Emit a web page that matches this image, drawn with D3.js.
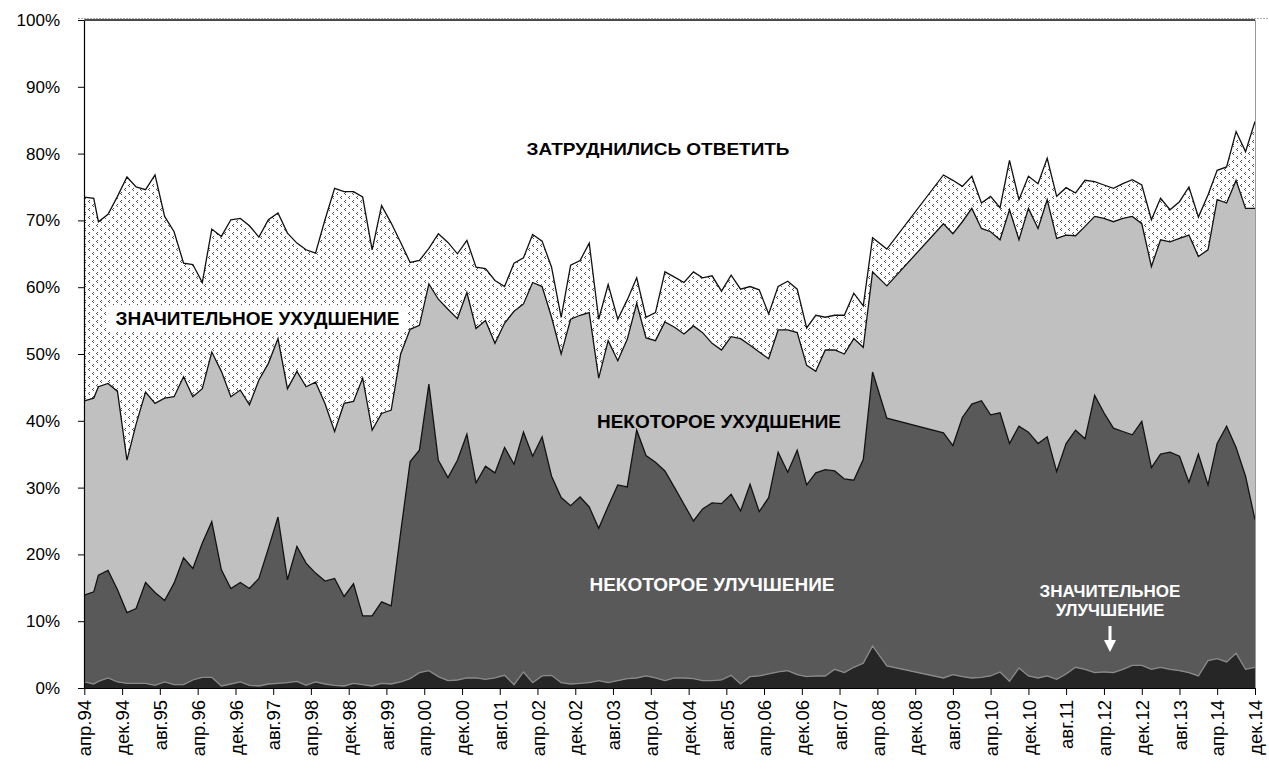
<!DOCTYPE html>
<html><head><meta charset="utf-8">
<script src="https://cdn.jsdelivr.net/npm/d3@7"></script>
<style>
body{margin:0;background:#fff}
svg{display:block}
text{font-family:"Liberation Sans",Arial,sans-serif}
</style>
</head><body>
<svg id="chart" width="1269" height="773"></svg>
<script>
// survey dates (year-month)
const dates = ["1994-04","1994-06","1994-07","1994-09","1994-11","1995-01","1995-03","1995-05","1995-07","1995-09","1995-11",
"1996-01","1996-03","1996-05","1996-07","1996-09","1996-11","1997-01","1997-03","1997-05","1997-07","1997-09","1997-11",
"1998-01","1998-03","1998-05","1998-07","1998-09","1998-11","1999-01","1999-03","1999-05","1999-07","1999-09","1999-11",
"2000-01","2000-03","2000-05","2000-07","2000-09","2000-11","2001-01","2001-03","2001-05","2001-07","2001-09","2001-11",
"2002-01","2002-03","2002-05","2002-07","2002-09","2002-11","2003-01","2003-03","2003-05","2003-07","2003-09","2003-11",
"2004-01","2004-03","2004-05","2004-07","2004-09","2004-11","2005-01","2005-03","2005-05","2005-07","2005-09","2005-11",
"2006-01","2006-03","2006-05","2006-07","2006-09","2006-11","2007-01","2007-03","2007-05","2007-07","2007-09","2007-11",
"2008-01","2008-03","2008-06","2009-06","2009-08","2009-10","2009-12","2010-02","2010-04","2010-06","2010-08","2010-10",
"2010-12","2011-02","2011-04","2011-06","2011-08","2011-10","2011-12","2012-02","2012-04","2012-06","2012-08","2012-10",
"2012-12","2013-02","2013-04","2013-06","2013-08","2013-10","2013-12","2014-02","2014-04","2014-06","2014-08","2014-10","2014-12"];

// Значительное улучшение
const sigImprove = [0.9,0.6,1.0,1.5,0.9,0.7,0.7,0.7,0.4,0.9,0.5,
0.5,1.2,1.6,1.6,0.3,0.6,0.9,0.4,0.3,0.6,0.7,0.8,
1.0,0.4,0.9,0.6,0.4,0.3,0.7,0.5,0.3,0.7,0.6,0.9,
1.4,2.3,2.6,1.7,1.1,1.2,1.5,1.5,1.3,1.5,1.9,0.5,
2.4,0.8,1.8,1.9,0.8,0.6,0.7,0.8,1.1,0.8,1.1,1.4,
1.5,1.8,1.5,1.1,1.5,1.5,1.4,1.1,1.1,1.2,1.9,0.6,
1.7,1.8,2.1,2.4,2.6,2.0,1.7,1.8,1.8,2.8,2.3,3.1,
3.7,6.3,3.3,1.5,2.0,1.7,1.5,1.6,1.8,2.4,1.0,3.0,
1.8,1.5,1.8,1.3,2.1,3.1,2.8,2.3,2.4,2.3,2.8,3.4,
3.4,2.8,3.1,2.8,2.6,2.3,1.8,4.1,4.4,3.9,5.2,2.8,3.1];

// Некоторое улучшение
const someImprove = [13.0,13.8,15.9,16.1,13.8,10.6,11.2,15.1,13.9,12.2,15.2,
19.0,16.7,20.1,23.3,17.4,14.3,14.9,14.5,16.1,20.3,24.9,15.4,
20.2,18.3,16.3,15.4,16.0,13.4,14.9,10.3,10.5,12.2,11.7,22.4,
32.5,33.3,42.9,32.4,30.4,32.9,36.5,29.2,31.9,30.7,34.1,33.0,
35.9,33.9,35.8,29.8,27.7,26.7,27.9,26.3,22.8,26.4,29.3,28.7,
37.1,33.0,32.3,31.4,28.5,26.0,23.6,25.7,26.6,26.4,27.1,25.9,
28.8,24.6,26.4,32.9,29.7,33.6,28.7,30.4,30.9,29.7,29.0,28.0,
30.5,41.0,37.1,36.7,34.3,38.8,41.0,41.4,39.1,38.8,35.6,36.2,
36.5,35.1,35.8,31.1,34.5,35.5,34.5,41.5,38.8,36.6,35.6,34.5,
36.5,30.2,31.9,32.5,32.1,28.5,33.2,26.3,32.2,35.3,30.8,28.9,22.1];

// Некоторое ухудшение
const someWorsen = [29.1,29.0,28.2,28.0,29.7,22.8,27.6,28.5,28.3,30.3,27.9,
27.1,25.7,23.1,25.4,29.7,28.7,28.8,27.5,29.7,27.7,26.7,28.6,
26.2,26.4,28.6,26.6,22.0,28.9,27.3,35.6,27.8,28.2,29.3,26.7,
19.8,18.7,15.0,24.1,25.2,21.2,21.2,23.1,21.8,19.4,18.6,22.9,
19.2,26.0,22.5,23.8,21.5,27.9,27.2,29.1,22.5,24.8,18.6,22.1,
19.0,17.6,18.2,22.3,24.0,25.5,29.2,26.4,23.9,23.0,23.6,25.8,
20.8,23.9,20.8,18.3,21.3,17.6,17.9,15.2,17.9,18.1,18.7,21.2,
16.8,15.0,19.8,31.3,31.7,29.3,29.3,25.8,27.4,25.9,35.0,27.9,
33.5,32.2,35.5,34.9,31.2,29.1,31.8,26.8,29.1,30.9,31.9,32.7,
29.6,30.1,32.1,31.5,32.6,37.0,29.6,35.2,36.5,33.4,40.0,40.1,46.6];

// Значительное ухудшение
const sigWorsen = [30.5,29.9,24.7,25.3,29.2,42.4,35.5,30.3,34.2,27.2,24.7,
17.0,19.8,15.9,18.4,20.2,26.5,25.7,26.8,21.4,21.5,18.8,23.3,
19.2,20.5,19.3,27.5,36.4,31.7,31.4,27.1,27.0,31.1,28.0,16.7,
10.0,9.7,5.3,9.8,10.0,9.7,7.8,9.2,7.8,9.4,5.5,7.2,
6.9,7.2,6.8,7.5,5.5,8.1,8.2,10.4,8.8,8.4,6.2,5.9,
3.8,3.1,4.2,7.5,7.5,7.7,8.1,8.2,10.1,8.8,9.2,7.4,
8.8,9.3,6.7,6.5,7.3,6.5,5.6,8.4,4.9,5.2,5.8,6.8,
6.2,5.1,5.5,7.3,8.0,5.3,4.8,3.8,5.3,4.8,7.4,6.0,
4.8,6.7,6.2,6.3,7.1,6.4,6.9,5.2,5.0,5.0,5.2,5.5,
5.8,7.0,6.2,4.8,5.5,7.2,5.9,8.2,4.4,5.4,7.3,8.5,13.0];

// Затруднились ответить
const hardToSay = [26.5,26.7,30.2,29.1,26.4,23.5,25.0,25.4,23.2,29.4,31.7,
36.4,36.6,39.3,31.3,32.4,29.9,29.7,30.8,32.5,29.9,28.9,31.9,
33.4,34.4,34.9,29.9,25.2,25.7,25.7,26.5,34.4,27.8,30.4,33.3,
36.3,36.0,34.2,32.0,33.3,35.0,33.0,37.0,37.2,39.0,39.9,36.4,
35.6,32.1,33.1,37.0,44.5,36.7,36.0,33.4,44.8,39.6,44.8,41.9,
38.6,44.5,43.8,37.7,38.5,39.3,37.7,38.6,38.3,40.6,38.2,40.3,
39.9,40.4,44.0,39.9,39.1,40.3,46.1,44.2,44.5,44.2,44.2,40.9,
42.8,32.6,34.3,23.2,24.0,24.9,23.4,27.4,26.4,28.1,21.0,26.9,
23.4,24.5,20.7,26.4,25.1,25.9,24.0,24.2,24.7,25.2,24.5,23.9,
24.7,29.9,26.7,28.4,27.2,25.0,29.5,26.2,22.5,22.0,16.7,19.7,15.2];

const seriesKeys = ["sigImprove","someImprove","someWorsen","sigWorsen","hardToSay"];
const monthNames = ["янв","фев","мар","апр","май","июн","июл","авг","сен","окт","ноя","дек"];
const yTicks = [0,10,20,30,40,50,60,70,80,90,100];

const parse = d3.timeParse("%Y-%m");
const rows = dates.map((d,i)=>({date:parse(d), sigImprove:sigImprove[i], someImprove:someImprove[i],
  someWorsen:someWorsen[i], sigWorsen:sigWorsen[i], hardToSay:hardToSay[i]}));

const svg = d3.select("#chart");
const W = 1269, H = 773;
const x = d3.scaleTime().domain([new Date(1994,3,1), new Date(2014,11,1)]).range([84.3, 1255]);
const y = d3.scaleLinear().domain([0,100]).range([688, 20]);

const defs = svg.append("defs");
const pat = defs.append("pattern").attr("id","dots").attr("patternUnits","userSpaceOnUse")
  .attr("width",8).attr("height",8);
pat.append("rect").attr("width",8).attr("height",8).attr("fill","#fff");
[[1,0],[0,1],[1,2],[5,4],[4,5],[5,6]].forEach(p=>{
  pat.append("rect").attr("x",p[0]).attr("y",p[1]).attr("width",1).attr("height",1).attr("fill","#555");
});

const stack = d3.stack().keys(seriesKeys);
const layers = stack(rows);
const fills = ["#262626","#595959","#c0c0c0","url(#dots)","#ffffff"];
const strokes = ["#8a8a8a","#111","#111","#111","#111"];

const area = d3.area().x(d=>x(d.data.date)).y0(d=>y(d[0])).y1(d=>y(d[1]));
const topLine = d3.line().x(d=>x(d.data.date)).y(d=>y(d[1]));

// chart border (dashed) at top
svg.append("line").attr("x1",78).attr("x2",W).attr("y1",18.5).attr("y2",18.5)
  .attr("stroke","#aaa").attr("stroke-dasharray","2,1").attr("stroke-width",1);

svg.append("g").selectAll("path").data(layers).join("path")
  .attr("d",area).attr("fill",(d,i)=>fills[i]).attr("stroke","none");
svg.append("g").selectAll("path").data(layers).join("path")
  .attr("d",topLine).attr("fill","none").attr("stroke",(d,i)=>strokes[i]).attr("stroke-width",1.3)
  .attr("stroke-linejoin","miter");

// right plot edge
svg.append("line").attr("x1",1255.5).attr("x2",1255.5).attr("y1",20).attr("y2",688)
  .attr("stroke","#999").attr("stroke-width",1);

// axes
const tickDates = d3.timeMonth.range(new Date(1994,3,1), new Date(2014,11,2), 8);
const xAxis = d3.axisBottom(x).tickValues(tickDates).tickSize(7).tickSizeOuter(0)
  .tickFormat(d=>monthNames[d.getMonth()]+"."+String(d.getFullYear()).slice(2));
const gx = svg.append("g").attr("transform","translate(0,688)").call(xAxis);
gx.select(".domain").attr("stroke","#000").attr("stroke-width",1.2);
gx.selectAll(".tick line").attr("stroke","#000");
gx.selectAll(".tick text").attr("font-size",18.5).attr("fill","#000")
  .attr("text-anchor","end").attr("transform","rotate(-90)")
  .attr("x",-12).attr("y",0).attr("dy","0.36em");

const yAxis = d3.axisLeft(y).tickValues(yTicks).tickSize(6).tickSizeOuter(0).tickPadding(18)
  .tickFormat(d=>d+"%");
const gy = svg.append("g").attr("transform","translate(84,0)").call(yAxis);
gy.select(".domain").attr("stroke","#000").attr("stroke-width",1.2);
gy.selectAll(".tick line").attr("stroke","#000");
gy.selectAll(".tick text").attr("font-size",17).attr("fill","#000");

// labels
const lab = svg.append("g").attr("font-weight","bold");
lab.append("text").attr("x",658).attr("y",154.5).attr("text-anchor","middle").attr("font-size",17)
  .attr("textLength",263).attr("lengthAdjust","spacingAndGlyphs").text("ЗАТРУДНИЛИСЬ ОТВЕТИТЬ");
lab.append("rect").attr("x",107).attr("y",305).attr("width",301).attr("height",27).attr("fill","#fff");
lab.append("text").attr("x",257.5).attr("y",324.5).attr("text-anchor","middle").attr("font-size",18)
  .attr("textLength",284).attr("lengthAdjust","spacingAndGlyphs").text("ЗНАЧИТЕЛЬНОЕ УХУДШЕНИЕ");
lab.append("text").attr("x",719).attr("y",427.5).attr("text-anchor","middle").attr("font-size",18)
  .attr("textLength",244).attr("lengthAdjust","spacingAndGlyphs").text("НЕКОТОРОЕ УХУДШЕНИЕ");
lab.append("text").attr("x",712).attr("y",590.5).attr("text-anchor","middle").attr("font-size",18).attr("fill","#fff")
  .attr("textLength",245).attr("lengthAdjust","spacingAndGlyphs").text("НЕКОТОРОЕ УЛУЧШЕНИЕ");
lab.append("text").attr("x",1110).attr("y",596.5).attr("text-anchor","middle").attr("font-size",17).attr("fill","#fff")
  .text("ЗНАЧИТЕЛЬНОЕ");
lab.append("text").attr("x",1110).attr("y",615.5).attr("text-anchor","middle").attr("font-size",17).attr("fill","#fff")
  .text("УЛУЧШЕНИЕ");
// arrow
lab.append("path").attr("d","M1108.5,626 L1111.5,626 L1111.5,640 L1116,640 L1110,652 L1104,640 L1108.5,640 Z")
  .attr("fill","#fff");
</script>
</body></html>
